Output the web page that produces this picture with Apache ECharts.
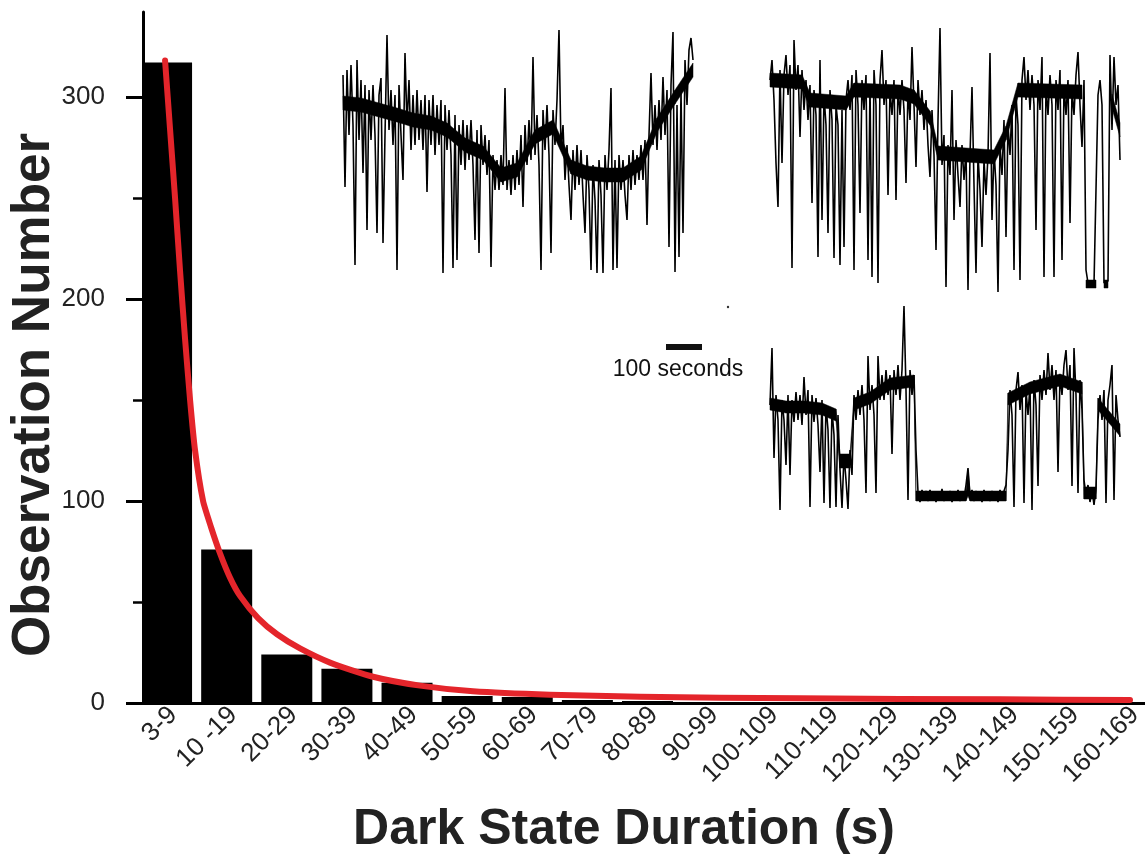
<!DOCTYPE html>
<html>
<head>
<meta charset="utf-8">
<script src="https://cdn.jsdelivr.net/npm/echarts@6/dist/echarts.min.js"></script>
<style>html,body{margin:0;padding:0;background:#fff}#c{width:1145px;height:859px}</style>
</head>
<body>
<div id="c"></div>
<script>
// ---- data ----
const categories = ['3-9','10 -19','20-29','30-39','40-49','50-59','60-69','70-79','80-89','90-99','100-109','110-119','120-129','130-139','140-149','150-159','160-169'];
const counts = [317, 76, 24, 17, 10, 3.5, 3, 1.5, 1, 0, 0, 0, 0, 0, 0, 0, 0];
const yTicks = [0, 100, 200, 300];
const yMinorTicks = [50, 150, 250];
const yTitle = 'Observation Number';
const xTitle = 'Dark State Duration (s)';
// fitted curve, x in category-index units
const fitX = [-0.133, -0.05, 0.033, 0.116, 0.2, 0.283, 0.366, 0.499, 0.632, 0.782, 0.948, 1.114, 1.414, 1.73, 2.112, 2.611, 3.327, 4.108, 4.99, 6.271, 7.768, 10.429, 13.756, 15.918];
const fitY = [318, 284, 250, 214, 180, 150, 125, 100, 87, 74, 62, 53, 42, 34, 27, 20, 13, 8.6, 5.8, 4.1, 3.1, 2.3, 1.8, 1.5];
// inset fluorescence traces (arbitrary intensity units, one sample per time step)
const trace1 = [
200,88,205,140,210,150,10,215,135,195,102,190,45,185,135,190,140,42,180,197,
32,140,240,145,185,130,180,5,190,140,95,222,150,195,125,180,130,185,135,175,
125,180,83,175,130,180,120,170,130,175,2,170,125,165,120,7,160,15,150,110,
155,105,150,115,155,110,35,145,22,150,110,140,100,135,8,120,85,115,85,120,
90,187,85,115,80,120,85,125,90,140,68,150,110,155,115,218,120,160,110,5,
165,125,170,120,22,165,130,175,245,125,150,95,130,90,55,125,85,130,90,125,
80,42,120,85,5,110,75,2,115,80,2,120,85,125,187,5,115,7,120,85,
115,80,55,120,85,125,90,120,95,130,95,135,50,140,202,130,170,125,175,135,
198,140,185,28,190,243,3,170,18,185,42,215,170,225,237,215];
const trace2 = [
215,235,195,132,88,225,132,220,240,200,230,27,255,205,230,158,225,185,215,175,
210,92,205,180,38,235,75,200,170,62,205,175,37,190,170,30,185,48,195,215,
185,220,25,225,190,82,215,185,220,35,210,18,225,190,12,215,245,190,215,100,
205,180,215,95,210,180,215,185,112,205,175,248,190,128,215,180,205,165,195,150,
118,185,140,45,175,267,130,160,8,150,120,205,75,155,120,88,150,115,145,5,
140,208,110,22,140,105,48,135,100,140,242,75,145,110,3,150,120,175,58,170,
140,190,25,200,170,15,215,238,195,225,185,220,190,65,215,185,238,18,210,180,
220,190,18,215,185,225,35,210,180,215,72,205,180,220,243,190,148,215,25,12,
10,14,11,13,200,215,190,12,10,14,240,165,238,190,210,135];
const trace3 = [
105,162,52,115,90,0,110,90,45,115,35,110,88,118,90,115,85,133,95,120,
3,115,88,112,85,38,110,7,105,80,2,100,75,3,95,40,2,55,30,1,
60,35,115,90,120,95,125,90,17,154,100,125,95,17,154,110,135,110,140,115,
135,56,140,115,145,110,140,204,120,10,140,115,135,60,18,8,20,10,19,9,
20,11,18,8,17,10,21,9,18,11,19,8,17,10,20,9,18,12,25,42,
14,20,9,19,11,18,8,20,10,17,9,19,11,18,8,20,12,19,25,60,
120,95,3,120,138,100,125,7,120,95,125,0,130,105,24,135,110,140,115,157,
120,145,110,140,38,135,115,145,160,120,145,24,162,115,17,130,100,30,15,25,
8,20,5,22,90,115,90,120,7,110,125,145,10,115,90,73];
// dense noise core of each trace: time step, lower and upper edge
const band1T  = [0,9,18,27,35,44,52,61,70,79,87,96,105,114,122,131,140,149,157,166,175];
const band1Lo = [165,163,158,153,148,145,138,123,115,93,98,131,141,101,95,93,93,105,143,171,198];
const band1Hi = [179,177,172,167,162,159,152,137,129,107,112,145,155,115,109,107,107,119,157,185,212];
const band2T  = [0,16,20,38,42,65,72,80,84,112,118,124,156,157,158,163,164,167,169,170,171,175];
const band2Lo = [208,206,188,185,198,196,191,170,135,131,155,198,196,null,7,7,null,7,7,null,187,158];
const band2Hi = [222,220,202,199,212,210,205,184,149,145,169,212,210,null,15,15,null,15,15,null,201,172];
const band3T  = [0,8,17,26,33,35,40,42,50,60,72,73,98,99,100,118,119,130,145,156,157,163,164,175];
const band3Lo = [100,97,97,95,89,42,42,100,106,120,123,9,9,14,9,9,105,116,124,116,11,11,100,74];
const band3Hi = [112,109,109,107,101,56,56,112,118,132,135,19,19,40,19,19,117,128,136,128,23,23,112,86];
const scaleBarLabel = '100 seconds';

// ---- chart ----
const chart = echarts.init(document.getElementById('c'), null, {renderer: 'canvas'});
const FONT = 'Liberation Sans, Arial, Helvetica, sans-serif';
const toPairs = a => a.map((v, i) => [i, v]);
const insetAxis = (gi, max, n) => ({
  x: {type: 'value', gridIndex: gi, min: 0, max: n - 1, show: false},
  y: {type: 'value', gridIndex: gi, min: 0, max: max, show: false}
});
const i1 = insetAxis(1, 250, trace1.length);
const i2 = insetAxis(2, 270, trace2.length);
const i3 = insetAxis(3, 210, trace3.length);
const traceSeries = (idx, data) => ({
  type: 'line', xAxisIndex: idx, yAxisIndex: idx, data: toPairs(data),
  symbol: 'none', lineStyle: {color: '#000', width: 1.6}, silent: true, z: 3
});
const bandSeries = (idx, T, LO, HI) => ({
  type: 'custom', xAxisIndex: idx, yAxisIndex: idx, silent: true, z: 2,
  data: T.map((t, i) => [t, LO[i] == null ? '-' : LO[i], HI[i] == null ? '-' : HI[i]]),
  encode: {x: 0, y: [1, 2]},
  renderItem: (params, api) => {
    const i = params.dataIndex;
    if (i >= T.length - 1 || LO[i] == null || LO[i + 1] == null) return null;
    const pts = [
      api.coord([T[i], LO[i]]), api.coord([T[i + 1], LO[i + 1]]),
      api.coord([T[i + 1], HI[i + 1]]), api.coord([T[i], HI[i]])
    ];
    return {type: 'polygon', shape: {points: pts}, style: {fill: '#000', stroke: '#000', lineWidth: 0.5}};
  }
});

chart.setOption({
  animation: false,
  backgroundColor: '#fff',
  grid: [
    {left: 143, right: -20, top: 12, bottom: 156, outerBoundsMode: 'none', containLabel: false},
    {left: 343, top: 25, width: 350, height: 250, outerBoundsMode: 'none'},
    {left: 770, top: 25, width: 350, height: 270, outerBoundsMode: 'none'},
    {left: 770, top: 300, width: 350, height: 210, outerBoundsMode: 'none'}
  ],
  xAxis: [
    {
      type: 'category', gridIndex: 0, data: categories, position: 'bottom',
      axisLine: {onZero: false, lineStyle: {color: '#000', width: 3}},
      axisTick: {alignWithLabel: true, length: 12, lineStyle: {color: '#000', width: 3}},
      axisLabel: {interval: 0, rotate: 45, margin: 8, fontSize: 26, color: '#222', fontFamily: FONT},
      name: xTitle, nameLocation: 'middle', nameGap: 102,
      nameTextStyle: {fontSize: 50, fontWeight: 'bold', color: '#222', fontFamily: FONT, padding: [0, 60, 0, 0]}
    },
    {type: 'value', gridIndex: 0, position: 'bottom', min: -0.5, max: 16.5, show: false},
    i1.x, i2.x, i3.x
  ],
  yAxis: [
    {
      type: 'value', gridIndex: 0, position: 'left', min: 0, max: 342,
      axisLine: {show: true, onZero: false, lineStyle: {color: '#000', width: 3}},
      axisTick: {show: true, customValues: yTicks, length: 17, lineStyle: {color: '#000', width: 3}},
      axisLabel: {customValues: yTicks, margin: 38, fontSize: 26, color: '#222', fontFamily: FONT},
      splitLine: {show: false}
    },
    {
      type: 'value', gridIndex: 0, position: 'left', min: 0, max: 342,
      axisLine: {show: false, onZero: false},
      axisTick: {show: true, customValues: yMinorTicks, length: 10, lineStyle: {color: '#000', width: 2.5}},
      axisLabel: {show: false}, splitLine: {show: false}
    },
    i1.y, i2.y, i3.y
  ],
  series: [
    {type: 'bar', xAxisIndex: 0, yAxisIndex: 0, data: counts, barWidth: 51, barGap: '0%',
     itemStyle: {color: '#000'}, z: 2},
    {type: 'bar', xAxisIndex: 0, yAxisIndex: 0, data: counts.map(() => '-'), barWidth: 13,
     itemStyle: {color: 'rgba(0,0,0,0)'}},
    {type: 'line', xAxisIndex: 1, yAxisIndex: 0, data: fitX.map((x, i) => [x, fitY[i]]),
     smooth: 0.2, symbol: 'none', z: 5,
     lineStyle: {color: '#e4252b', width: 6, cap: 'round', join: 'round'}},
    bandSeries(2, band1T, band1Lo, band1Hi),
    bandSeries(3, band2T, band2Lo, band2Hi),
    bandSeries(4, band3T, band3Lo, band3Hi),
    traceSeries(2, trace1),
    traceSeries(3, trace2),
    traceSeries(4, trace3)
  ],
  graphic: [
    {type: 'text', x: 34, y: 395, rotation: Math.PI / 2,
     style: {text: yTitle, font: 'bold 53px ' + FONT, fill: '#222', align: 'center', verticalAlign: 'middle'}},
    {type: 'rect', shape: {x: 666, y: 344, width: 36, height: 6}, style: {fill: '#111'}},
    {type: 'text', x: 678, y: 370, style: {text: scaleBarLabel, font: '23px ' + FONT, fill: '#111', align: 'center', verticalAlign: 'middle'}},
    {type: 'circle', shape: {cx: 728, cy: 307, r: 1.2}, style: {fill: '#333'}}
  ]
});
</script>
</body>
</html>
